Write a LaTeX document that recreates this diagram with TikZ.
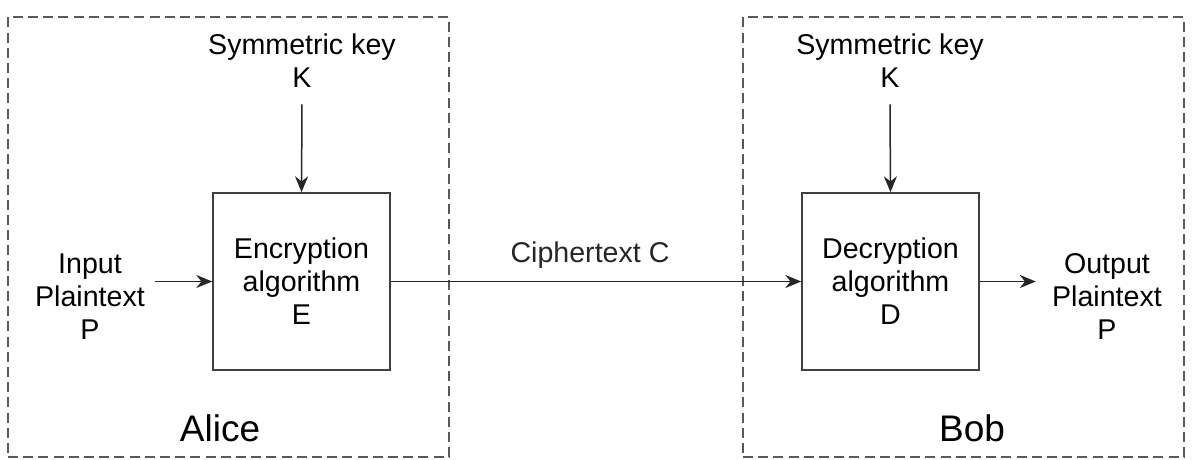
\documentclass[tikz,border=0pt]{standalone}
\usepackage{fontspec}
\setmainfont{Liberation Sans}
\usetikzlibrary{arrows.meta, positioning}

\begin{document}
\begin{tikzpicture}[x=0.5pt, y=-0.5pt,
  font=\fontsize{14.3}{16.5}\selectfont,
  arr/.style={-{Stealth[length=2.8mm, width=2.3mm]}, line width=0.75pt, black!85},
  algbox/.style={draw=black!75, line width=0.8pt, minimum width=88.5pt,
    minimum height=88.5pt, align=center},
  frame/.style={draw=black!65, line width=0.75pt, dash pattern=on 5pt off 2.6pt,
    minimum width=220.5pt, minimum height=220pt},
  lbl/.style={align=center, inner sep=2pt},
  who/.style={font=\fontsize{18.5}{20}\selectfont}]

  \useasboundingbox (0,0) rectangle (1195,460);

  % sender and receiver
  \node[frame] (alice) at (228.5,237) {};
  \node[frame] (bob) at (963.5,237) {};
  \node[who] (aliceL) at (220,428) {Alice};
  \node[who] (bobL) at (972,428) {Bob};

  % algorithms
  \node[algbox] (enc) at (301.5,281.5) {Encryption\\algorithm\\E};
  \node[algbox] (dec) at (890.5,281.5) {Decryption\\algorithm\\D};

  \node[lbl] (keyA) at (302,61) {Symmetric key\\K};
  \node[lbl] (keyB) at (890,61) {Symmetric key\\K};
  \node[lbl] (inP) at (90,297) {Input\\Plaintext\\P};
  \node[lbl] (outP) at (1107,297) {Output\\Plaintext\\P};

  \draw[arr] ([yshift=-6pt]keyA.south) -- (enc.north);
  \draw[arr] ([yshift=-6pt]keyB.south) -- (dec.north);
  \draw[arr] ([xshift=3pt]inP.east |- enc.west) -- (enc.west);
  \draw[arr] (enc.east) -- node[above=3pt, xshift=-3pt]{Ciphertext C} (dec.west);
  \draw[arr] (dec.east) -- ([xshift=-6pt]outP.west |- dec.east);
\end{tikzpicture}
\end{document}
